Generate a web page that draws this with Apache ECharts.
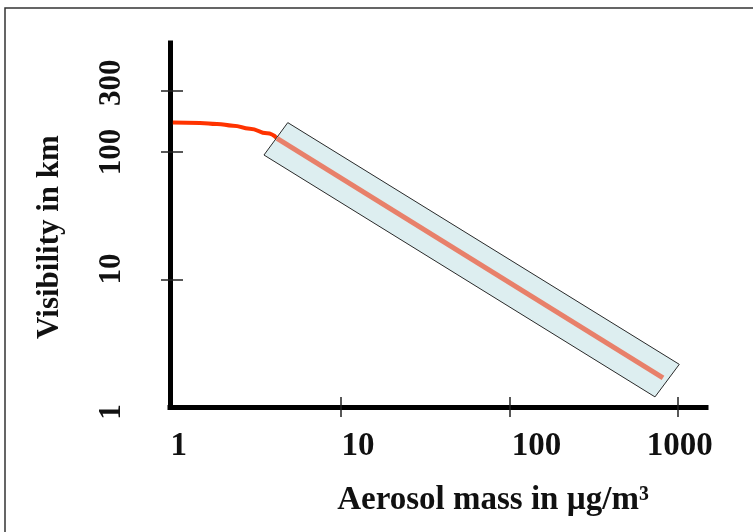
<!DOCTYPE html>
<html>
<head>
<meta charset="utf-8">
<script src="https://cdn.jsdelivr.net/npm/echarts@6/dist/echarts.min.js"></script>
<style>
html,body{margin:0;padding:0;background:#fff;}
#chart{width:753px;height:532px;}
</style>
</head>
<body>
<div id="chart"></div>
<script>
// ---- data ----
const massTicks = [1, 10, 100, 1000];          // x axis tick labels (µg/m³)
const visTicks = [1, 10, 100, 300];            // y axis tick labels (km)
const curveMass = [1, 1.45, 1.83, 2.28, 2.87, 3.63, 4.16]; // red curve
const curveVis = [170, 169, 166, 161, 152, 140, 128];
const fitMass = [4.16, 818];                   // straight fit inside the box
const fitVis = [128, 1.69];
const boxMass = [4.82, 3.48, 733, 1022];       // corners of the shaded band
const boxVis = [170, 94.7, 1.2, 2.16];
const xTitle = 'Aerosol mass in µg/m³';
const yTitle = 'Visibility in km';

const lg = v => Math.log10(v);
const pairs = (xs, ys) => xs.map((x, i) => [lg(x), lg(ys[i])]);
const FONT = '"Times New Roman", "Liberation Serif", serif';

const labelStyle = (size, pad) => ({
  fontFamily: FONT, fontWeight: 'bold', fontSize: size, color: '#111', padding: pad
});
const xRich = {
  x1: labelStyle(33, [0, 0, 0, 12]),
  x10: labelStyle(33, [0, 0, 0, 34]),
  x100: labelStyle(33, [0, 0, 0, 54]),
  x1000: labelStyle(33, [0, 0, 0, 4])
};
const yRich = {
  y1: labelStyle(31, [0, 10, 0, 0]),
  y10: labelStyle(31, [0, 0, 0, 21]),
  y100: labelStyle(31, [0, 0, 0, 0]),
  y300: labelStyle(31, [0, 0, 0, 17])
};
const fmt = prefix => v => {
  const n = Math.round(Math.pow(10, v));
  return '{' + prefix + n + '|' + n + '}';
};

const xMin = lg(0.962), xMax = lg(1473);
const yMin = 0, yMax = lg(716);

const chart = echarts.init(document.getElementById('chart'), null, {renderer: 'canvas'});
chart.setOption({
  backgroundColor: '#ffffff',
  animation: false,
  grid: {left: 170, right: 47, top: 43, bottom: 125, containLabel: false, outerBoundsMode: 'none'},
  xAxis: [{
    type: 'value', min: xMin, max: xMax, position: 'bottom',
    axisLine: {show: true, onZero: false, lineStyle: {color: '#000', width: 5, cap: 'square'}},
    axisTick: {show: true, inside: false, length: 10, lineStyle: {color: '#222', width: 1.5},
      customValues: massTicks.slice(1).map(lg)},
    axisLabel: {show: true, margin: 23, formatter: fmt('x'), rich: xRich,
      customValues: massTicks.map(lg)},
    splitLine: {show: false}
  }, {
    type: 'value', min: xMin, max: xMax, position: 'bottom',
    axisLine: {show: false, onZero: false},
    axisTick: {show: true, inside: true, length: 10, lineStyle: {color: '#222', width: 1.5},
      customValues: massTicks.slice(1).map(lg)},
    axisLabel: {show: false},
    splitLine: {show: false}
  }],
  yAxis: [{
    type: 'value', min: yMin, max: yMax, position: 'left',
    axisLine: {show: true, onZero: false, lineStyle: {color: '#000', width: 5, cap: 'square'}},
    axisTick: {show: true, inside: false, length: 9, lineStyle: {color: '#222', width: 1.5},
      customValues: visTicks.slice(1).map(lg)},
    axisLabel: {show: true, margin: 43, rotate: 90, formatter: fmt('y'), rich: yRich,
      customValues: visTicks.map(lg)},
    splitLine: {show: false}
  }, {
    type: 'value', min: yMin, max: yMax, position: 'left',
    axisLine: {show: false, onZero: false},
    axisTick: {show: true, inside: true, length: 13, lineStyle: {color: '#222', width: 1.5},
      customValues: visTicks.slice(1).map(lg)},
    axisLabel: {show: false},
    splitLine: {show: false}
  }],
  graphic: [
    {type: 'rect', shape: {x: 5, y: 8, width: 900, height: 700}, z: -10,
      style: {fill: 'none', stroke: '#333', lineWidth: 1.5}},
    {type: 'text', x: 493, y: 500, style: {text: xTitle, font: 'bold 33px ' + FONT,
      fill: '#111', textAlign: 'center', textVerticalAlign: 'middle'}},
    {type: 'text', x: 50, y: 237, rotation: Math.PI / 2, style: {text: yTitle,
      font: 'bold 31px ' + FONT, fill: '#111', textAlign: 'center', textVerticalAlign: 'middle'}}
  ],
  series: [
    {
      type: 'line', name: 'curve', data: pairs(curveMass, curveVis), smooth: 0.5,
      smoothMonotone: 'x',
      symbol: 'none', lineStyle: {color: '#ff3300', width: 4}, z: 2
    },
    {
      type: 'custom', name: 'band', data: [[lg(boxMass[0]), lg(boxVis[0])]], z: 3,
      renderItem: function (params, api) {
        const pts = boxMass.map((m, i) => api.coord([lg(m), lg(boxVis[i])]));
        return {type: 'polygon', shape: {points: pts},
          style: {fill: '#ddeef0', stroke: '#2a2a2a', lineWidth: 1}};
      }
    },
    {
      type: 'line', name: 'fit', data: pairs(fitMass, fitVis),
      symbol: 'none', lineStyle: {color: '#e8806a', width: 5}, z: 4
    }
  ]
});
</script>
</body>
</html>
